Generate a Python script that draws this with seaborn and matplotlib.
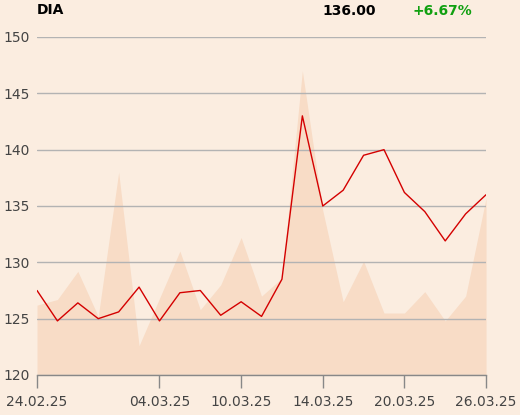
import matplotlib
matplotlib.use("agg")
import matplotlib.pyplot as plt
import seaborn as sns
import pandas as pd

# trading days shown on the chart
dates = ["24.02.25", "25.02.25", "26.02.25", "27.02.25", "28.02.25",
         "03.03.25", "04.03.25", "05.03.25", "06.03.25", "07.03.25",
         "10.03.25", "11.03.25", "12.03.25", "13.03.25", "14.03.25",
         "17.03.25", "18.03.25", "19.03.25", "20.03.25", "21.03.25",
         "24.03.25", "25.03.25", "26.03.25"]

# price line (red)
price = [127.5, 124.8, 126.4, 125.0, 125.6, 127.8, 124.8, 127.3, 127.5, 125.3,
         126.5, 125.2, 128.5, 143.0, 135.0, 136.4, 139.5, 140.0, 136.2, 134.5,
         131.9, 134.3, 136.0]

# shaded background series
shade = [126.2, 126.7, 129.2, 125.2, 138.0, 122.6, 126.8, 131.0, 125.8, 128.0,
         132.2, 127.0, 128.6, 147.0, 134.6, 126.5, 130.1, 125.5, 125.5, 127.4,
         124.8, 127.0, 135.7]

tick_labels = ["24.02.25", "04.03.25", "10.03.25", "14.03.25", "20.03.25", "26.03.25"]

bg = "#fbede0"
sns.set_theme(style="white", rc={"figure.facecolor": bg, "axes.facecolor": bg})
plt.rcParams["font.family"] = ["DejaVu Sans"]

df = pd.DataFrame({"idx": range(len(dates)), "date": dates, "price": price, "shade": shade})

fig = plt.figure(figsize=(5.2, 4.15), dpi=100)
ax = fig.add_axes([0.0712, 0.0964, 0.8635, 0.8145])

ax.fill_between(df["idx"], 120, df["shade"], color="#f8dcc6", linewidth=0, zorder=1)
sns.lineplot(data=df, x="idx", y="price", color="#d40000", linewidth=1.0, ax=ax, zorder=3)

ax.set_xlim(0, len(dates) - 1)
ax.set_ylim(120, 150)
ax.set_yticks([120, 125, 130, 135, 140, 145, 150])
ax.yaxis.grid(True, color="#b3b3b3", linewidth=1.0, zorder=2)
ax.set_axisbelow(False)

tick_pos = [dates.index(t) for t in tick_labels]
ax.set_xticks(tick_pos)
ax.set_xticklabels(tick_labels)
ax.set_xlabel("")
ax.set_ylabel("")

for s in ["top", "right", "left"]:
    ax.spines[s].set_visible(False)
ax.spines["bottom"].set_color("#888888")
ax.spines["bottom"].set_linewidth(1.0)
ax.tick_params(axis="x", which="major", bottom=True, length=9.4, width=1.0,
               color="#888888", labelsize=10, labelcolor="#444444", pad=5)
ax.tick_params(axis="y", left=False, length=0, labelsize=10, labelcolor="#444444", pad=5.5)

fig.text(37 / 520, 1 - 10 / 415, "DIA", fontsize=10, fontweight="bold",
         color="black", ha="left", va="center")
fig.text(322 / 520, 1 - 11 / 415, "136.00", fontsize=10, fontweight="bold",
         color="black", ha="left", va="center")
fig.text(412 / 520, 1 - 11 / 415, "+6.67%", fontsize=10, fontweight="bold",
         color="#10a010", ha="left", va="center")

fig.savefig("out.png", dpi=100, facecolor=bg)
